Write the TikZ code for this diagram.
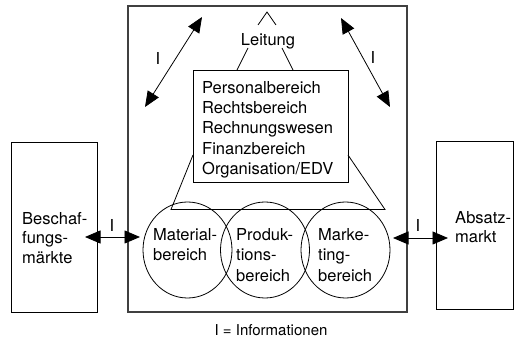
\documentclass[tikz,border=0pt]{standalone}
\usepackage{fontspec}
\setmainfont{TeX Gyre Heros}
\usetikzlibrary{arrows.meta,shapes.geometric}
\begin{document}
\begin{tikzpicture}[x=1pt,y=-1pt,
  txt/.style={font=\fontsize{16.5}{20.3}\selectfont, inner sep=0pt, align=left},
  mtxt/.style={font=\fontsize{16.5}{19.5}\selectfont, inner sep=0pt, align=left},
  ctxt/.style={font=\fontsize{16.5}{20.5}\selectfont, inner sep=0pt, align=left},
  frame/.style={draw, line width=0.8pt, inner sep=0pt},
  mainframe/.style={draw=black!75, line width=1.2pt, inner sep=0pt},
  bereichkreis/.style={draw, ellipse, line width=0.8pt, inner sep=0pt, minimum width=89pt, minimum height=96pt},
  tri/.style={line width=0.8pt},
  bi/.style={line width=0.8pt, {Triangle[length=15.5pt,width=13pt]}-{Triangle[length=15.5pt,width=13pt]}}
]
\useasboundingbox (0,0) rectangle (520,339);

% boxes
\node[mainframe, minimum width=279pt, minimum height=306pt] (unternehmen) at (267.5,159) {};
\node[frame, minimum width=86pt, minimum height=170pt] (beschaffung) at (54,227) {};
\node[frame, minimum width=77pt, minimum height=168pt] (absatz) at (474.5,225) {};
\node[frame, minimum width=155pt, minimum height=112pt] (stab) at (270.5,126) {};

% circles
\node[bereichkreis] (material) at (187.5,250) {};
\node[bereichkreis] (produktion) at (265,250) {};
\node[bereichkreis] (marketing) at (345.5,250) {};

% texts
\node[txt, anchor=north west] (stabtext) at (202,81) {Personalbereich\\Rechtsbereich\\Rechnungswesen\\Finanzbereich\\Organisation/EDV};
\node[txt] (leitung) at (268,41) {Leitung};
\node[ctxt, anchor=north west] (mattext) at (153,228) {Material-\\bereich};
\node[ctxt, anchor=north west] (prodtext) at (236,228) {Produk-\\tions-\\bereich};
\node[ctxt, anchor=north west] (marktext) at (318,228) {Marke-\\ting-\\bereich};
\node[mtxt, anchor=north west] (beschtext) at (22,212) {Beschaf-\\fungs-\\märkte};
\node[mtxt, anchor=north west] (absatztext) at (455,211) {Absatz-\\markt};

% triangle (Leitung)
\coordinate (apex) at (267,12);
\coordinate (a1) at (258,25);
\coordinate (a2) at (276,25);
\coordinate (b1) at (248,48);
\coordinate (b2) at (237,70);
\coordinate (c1) at (282,48);
\coordinate (c2) at (293,70);
\coordinate (d1) at (193,155);
\coordinate (d2) at (171,209.5);
\coordinate (e2) at (385,209.5);
\coordinate (e1) at (348,155);
\draw[tri] (a1) -- (apex) -- (a2);
\draw[tri] (b1) -- (b2);
\draw[tri] (c1) -- (c2);
\draw[tri] (d1) -- (d2) -- (e2) -- (e1);

% information arrows
\coordinate (l1) at (85,237);
\coordinate (l2) at (140,237);
\coordinate (r1) at (393,238);
\coordinate (r2) at (448,238);
\coordinate (tl1) at (202,17);
\coordinate (tl2) at (145,107);
\coordinate (tr1) at (341,18);
\coordinate (tr2) at (390,107);
\draw[bi] (l1) -- (l2);
\draw[bi] (r1) -- (r2);
\draw[bi] (tl1) -- (tl2);
\draw[bi] (tr1) -- (tr2);

\node[txt] (il) at (112,225) {I};
\node[txt] (ir) at (418,225) {I};
\node[txt] (itl) at (158,58) {I};
\node[txt] (itr) at (373,57) {I};

\node[font=\fontsize{15}{18}\selectfont, inner sep=0pt] (legende) at (271,330) {I = Informationen};
\end{tikzpicture}
\end{document}
